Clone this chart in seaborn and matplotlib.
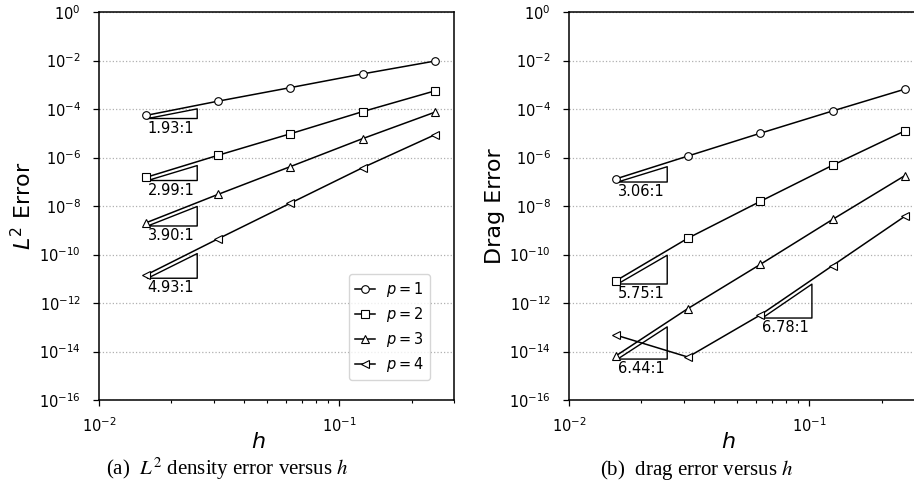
import numpy as np
import pandas as pd
import matplotlib
matplotlib.use("Agg")
import matplotlib.pyplot as plt
import seaborn as sns
from matplotlib.ticker import NullLocator, NullFormatter, LogLocator

# ---------------- data ----------------
h = [1/64, 1/32, 1/16, 1/8, 1/4]
orders = ["1", "2", "3", "4"]
markers = ["o", "s", "^", "<"]

l2_p1 = [5.4e-5, 2.1e-4, 7.6e-4, 2.8e-3, 9.5e-3]
l2_p2 = [1.5e-7, 1.23e-6, 9.5e-6, 7.8e-5, 5.6e-4]
l2_p3 = [2.0e-9, 3.0e-8, 4.2e-7, 6.0e-6, 7.4e-5]
l2_p4 = [1.4e-11, 4.4e-10, 1.3e-8, 3.8e-7, 8.7e-6]

drag_p1 = [1.3e-7, 1.15e-6, 1.0e-5, 8.3e-5, 6.6e-4]
drag_p2 = [8.1e-12, 4.7e-10, 1.55e-8, 4.8e-7, 1.26e-5]
drag_p3 = [6.5e-15, 5.9e-13, 3.9e-11, 2.8e-9, 1.8e-7]
drag_p4 = [4.8e-14, 5.9e-15, 3.2e-13, 3.5e-11, 3.8e-9]

# slope triangles: (series index, point index, rate)
l2_rates = [(0, 0, "1.93"), (1, 0, "2.99"), (2, 0, "3.90"), (3, 0, "4.93")]
drag_rates = [(0, 0, "3.06"), (1, 0, "5.75"), (2, 0, "6.44"), (3, 2, "6.78")]

ytick_vals = [10.0 ** k for k in range(0, -17, -2)]

# ---------------- figure ----------------
W, H = 914, 488
fig = plt.figure(figsize=(W / 100, H / 100), dpi=100)
ax1 = fig.add_axes([99 / W, 88 / H, 355 / W, 388 / H])
ax2 = fig.add_axes([569 / W, 88 / H, 355 / W, 388 / H])

tick_fs = 10.5
label_fs = 16


def draw_panel(ax, series, rates, ylabel, show_legend):
    ax.set_xscale("log")
    ax.set_yscale("log")
    for k, (vals, mk, p) in enumerate(zip(series, markers, orders)):
        df = pd.DataFrame({"h": h, "err": vals})
        sns.lineplot(data=df, x="h", y="err", ax=ax, color="k", marker=mk,
                     markersize=5.5, markerfacecolor="white",
                     markeredgecolor="k", markeredgewidth=0.8,
                     linewidth=1.1, errorbar=None, zorder=3,
                     label=rf"$p={p}$" if show_legend else None,
                     legend=False)
    # slope triangles
    for si, pi, r in rates:
        rate = float(r)
        x0 = h[pi] * 1.02
        x1 = h[pi] * 1.64
        y0 = series[si][pi] * 0.75
        y1 = y0 * (x1 / x0) ** rate
        ax.plot([x0, x1, x1, x0], [y0, y0, y1, y0], color="k", lw=1.0,
                zorder=2)
        ax.annotate(f"{r}:1", xy=(h[pi], y0), xytext=(1.5, -1.5),
                    textcoords="offset points", ha="left", va="top",
                    fontsize=tick_fs, zorder=4)

    ax.set_xlim(1e-2, 0.3)
    ax.set_ylim(1e-16, 1)
    ax.set_yticks(ytick_vals)
    ax.yaxis.set_minor_locator(NullLocator())
    ax.xaxis.set_major_locator(LogLocator(base=10))
    ax.xaxis.set_minor_locator(LogLocator(base=10, subs=np.arange(2, 10)))
    ax.xaxis.set_minor_formatter(NullFormatter())
    ax.grid(axis="y", which="major", linestyle=":", color="#b0b0b0",
            linewidth=0.9)
    ax.set_axisbelow(True)
    ax.tick_params(axis="both", which="major", direction="out", length=4,
                   width=0.9, labelsize=tick_fs)
    ax.tick_params(axis="y", which="major", pad=9)
    ax.tick_params(axis="x", which="major", pad=8)
    ax.tick_params(axis="x", which="minor", direction="out", length=2.2,
                   width=0.8)
    for s in ax.spines.values():
        s.set_linewidth(1.1)
    ax.set_xlabel(r"$h$", fontsize=label_fs)
    ax.set_ylabel(ylabel, fontsize=label_fs)
    ax.xaxis.set_label_coords(0.45, -0.082)
    ax.yaxis.set_label_coords(-0.18, 0.5)
    if show_legend:
        ax.legend(loc="lower right", bbox_to_anchor=(0.932, 0.0515),
                  borderaxespad=0, fontsize=tick_fs, handlelength=1.4,
                  handletextpad=0.75, labelspacing=0.42)


draw_panel(ax1, [l2_p1, l2_p2, l2_p3, l2_p4], l2_rates, r"$L^2$ Error", True)
draw_panel(ax2, [drag_p1, drag_p2, drag_p3, drag_p4], drag_rates,
           "Drag Error", False)

cap_kw = dict(fontsize=15, family="Liberation Serif", math_fontfamily="stix",
              ha="center", va="baseline")
fig.text(227 / W, 13 / H, r"(a)  $L^2$ density error versus $h$", **cap_kw)
fig.text(697 / W, 13 / H, r"(b)  drag error versus $h$", **cap_kw)

fig.savefig("out.png", dpi=100)
